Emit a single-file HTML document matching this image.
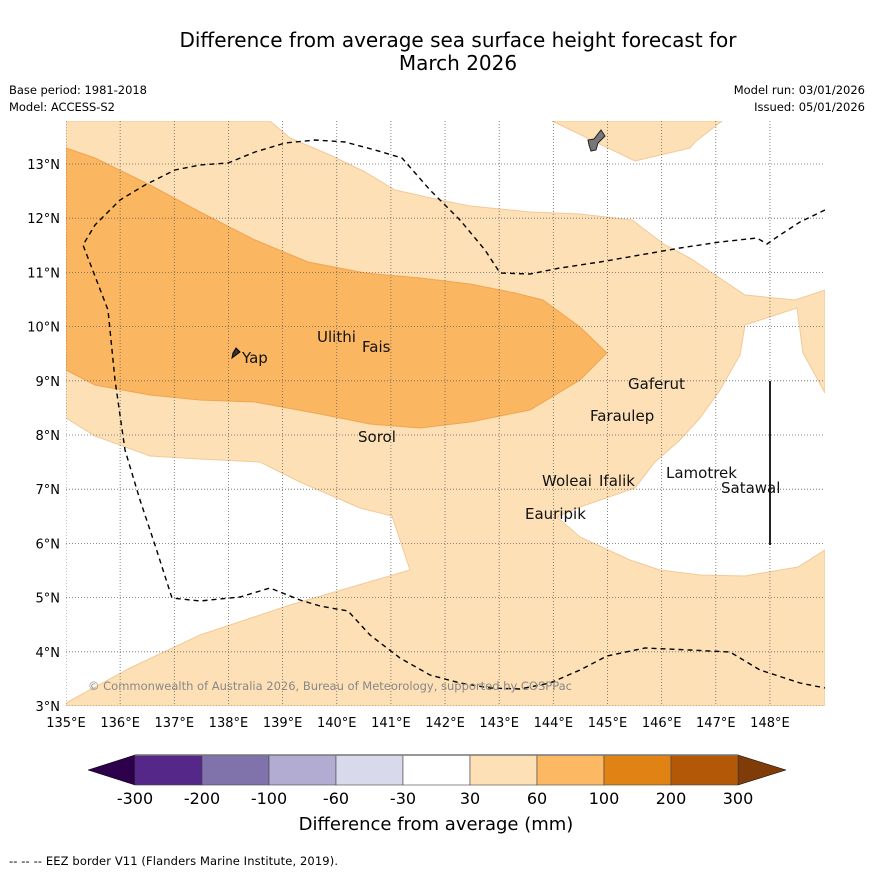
<!DOCTYPE html>
<html><head><meta charset="utf-8"><style>
body{margin:0;background:#fff;}
svg text{font-family:"DejaVu Sans","Liberation Sans",sans-serif;}
</style></head><body>
<svg id="s" width="873" height="873" viewBox="0 0 873 873" xmlns="http://www.w3.org/2000/svg">
<text x="458" y="47" font-size="20" text-anchor="middle">Difference from average sea surface height forecast for</text>
<text x="458" y="70" font-size="20" text-anchor="middle">March 2026</text>
<text x="9" y="94" font-size="11.5" textLength="138">Base period: 1981-2018</text>
<text x="9" y="111" font-size="11.5" textLength="106">Model: ACCESS-S2</text>
<text x="865" y="94" font-size="11.5" text-anchor="end">Model run: 03/01/2026</text>
<text x="865" y="111" font-size="11.5" text-anchor="end">Issued: 05/01/2026</text>
<defs><clipPath id="mc"><rect x="66" y="121" width="759" height="585"/></clipPath></defs>
<g clip-path="url(#mc)">
<path fill="#fde0b6" stroke="#f3c998" stroke-width="1" d="M66,121 L270,121 L290,138 L330,155 L365,172 L395,190 L440,200 L470,206 L530,212 L580,214 L632,220 L665,245 L690,258 L745,295 L795,300 L825,290 L825,393 L803,353 L797,308 L745,325 L740,355 L720,390 L700,418 L680,440 L655,462 L635,488 L580,507 L557,517 L580,537 L630,560 L660,570 L700,575 L745,576 L798,567 L825,550 L825,706 L66,706 L66,703 L130,668 L200,635 L230,625 L290,605 L410,570 L392,516 L360,508 L300,482 L260,462 L200,459 L150,456 L95,436 L66,418 Z"/>
<path fill="#fde0b6" stroke="#f3c998" d="M552,121 L722,121 L695,142 L690,148 L635,161 Z"/>
<path fill="#fbb661" stroke="#f0a550" stroke-width="1" d="M66,148 L95,158 L150,185 L200,212 L255,240 L308,262 L365,273 L420,278 L470,284 L515,293 L543,300 L580,327 L607,353 L580,380 L530,410 L470,422 L420,428 L370,424 L320,414 L255,402 L200,400 L150,395 L95,385 L66,370 Z"/>
<g id="grid" stroke="#666" stroke-width="0.8" stroke-dasharray="1,2"></g>
<path fill="none" stroke="#000" stroke-width="1.4" stroke-dasharray="5,4" d="M825,210 L800,222 L780,235 L767,244 L757,238 L720,242 L680,248 L640,255 L600,262 L560,268 L530,274 L500,273 L485,250 L460,220 L430,190 L402,158 L375,150 L345,142 L315,140 L285,143 L255,152 L228,163 L200,165 L175,170 L145,185 L120,200 L95,225 L83,245 L108,310 L115,380 L125,450 L140,500 L155,545 L172,598 L200,601 L240,597 L270,588 L300,600 L320,606 L348,611 L370,635 L400,658 L430,675 L460,683 L490,688 L520,689 L550,683 L580,670 L607,656 L645,648 L690,650 L730,652 L760,670 L800,683 L825,688"/>
<path fill="#777" stroke="#222" stroke-width="1" d="M601,130 L605,136 L598,143 L596,150 L591,151 L589,145 L588,140 L594,139 Z"/>
<path fill="#333" stroke="#000" d="M236,348 L240,352 L236,355 L232,358 L233,353 Z"/>
<line x1="770" y1="381" x2="770" y2="545" stroke="#222" stroke-width="2"/>
<g font-size="15" fill="#111">
<text x="317" y="342">Ulithi</text>
<text x="362" y="352">Fais</text>
<text x="242" y="363">Yap</text>
<text x="358" y="442">Sorol</text>
<text x="628" y="389">Gaferut</text>
<text x="590" y="421">Faraulep</text>
<text x="542" y="486">Woleai</text>
<text x="599" y="486">Ifalik</text>
<text x="525" y="519">Eauripik</text>
<text x="666" y="478">Lamotrek</text>
<text x="721" y="493">Satawal</text>
</g>
<text x="88" y="690" font-size="11.5" textLength="484" fill="#888">© Commonwealth of Australia 2026, Bureau of Meteorology, supported by COSPPac</text>
</g>
<g id="axes" font-size="13"></g>
<g id="cbar"></g>
<text x="436" y="830" font-size="18" text-anchor="middle">Difference from average (mm)</text>
<text x="9" y="865" font-size="11.5" textLength="329">--  --  -- EEZ border V11 (Flanders Marine Institute, 2019).</text>
</svg>
<script>
var lonTicks=[135,136,137,138,139,140,141,142,143,144,145,146,147,148];
var latTicks=[3,4,5,6,7,8,9,10,11,12,13];
var cbLabels=["-300","-200","-100","-60","-30","30","60","100","200","300"];
var cbColors=["#542788","#8073ac","#b2abd2","#d8daeb","#ffffff","#fee0b6","#fdb863","#e08214","#b35806"];
var cbLow="#2d004b", cbHigh="#7f3b08";
var NS="http://www.w3.org/2000/svg";
function X(lon){return 66+(lon-135)*54.15;}
function Y(lat){return 706-(lat-3)*54.2;}
function mk(t,a,p){var e=document.createElementNS(NS,t);for(var k in a)e.setAttribute(k,a[k]);p.appendChild(e);return e;}
var g=document.getElementById('grid'),ax=document.getElementById('axes');
lonTicks.forEach(function(l){
 var x=X(l);
 var ln=mk('line',{x1:x,y1:121,x2:x,y2:706},g);
 
 
 var t=mk('text',{x:x,y:727,'text-anchor':'middle'},ax);t.textContent=l+'°E';
 
 
});
latTicks.forEach(function(l){
 var y=Y(l);
 var ln=mk('line',{x1:66,y1:y,x2:825,y2:y},g);
 
 
 var t=mk('text',{x:60,y:y+5,'text-anchor':'end'},ax);t.textContent=l+'°N';
 
 
});
var cb=document.getElementById('cbar');
var x0=135,x1=738,w=(x1-x0)/cbColors.length,yt=755,yb=785;
var lo=mk('polygon',{points:'88,770 '+x0+','+yt+' '+x0+','+yb,fill:cbLow,stroke:'#000','stroke-width':0.5},cb);


var hi=mk('polygon',{points:'786,770 '+x1+','+yt+' '+x1+','+yb,fill:cbHigh,stroke:'#000','stroke-width':0.5},cb);


cbColors.forEach(function(c,i){
 var r=mk('rect',{x:x0+i*w,y:yt,width:w,height:yb-yt,fill:c,stroke:'#444','stroke-width':0.6},cb);
 
 
});
mk('line',{x1:x0,y1:yt,x2:x1,y2:yt,stroke:'#777','stroke-width':1.5},cb);
cbLabels.forEach(function(s,i){
 var t=mk('text',{x:x0+i*w,y:804,'font-size':16,'text-anchor':'middle'},cb);t.textContent=s;
 
 
});
</script>
</body></html>
